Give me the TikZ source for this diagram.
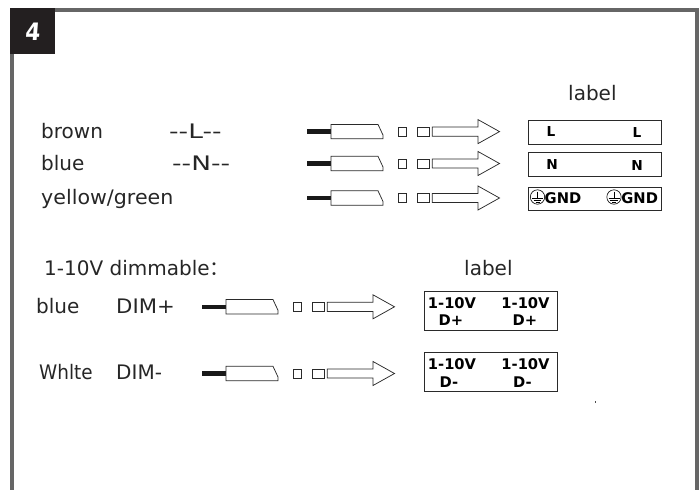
\documentclass[tikz,border=0pt]{standalone}
\usepackage{fontspec}
\usepackage{graphicx}
\setmainfont{DejaVu Sans}
\newfontfamily\cjkfont{Noto Sans CJK SC}
\newfontfamily\tagfont[FakeSlant=0.08,FakeStretch=0.9]{DejaVu Sans Bold}
\definecolor{framegrey}{HTML}{666666}
\definecolor{tagblack}{HTML}{231F20}
\definecolor{inkline}{HTML}{2A2A2A}
\tikzset{
  x=1pt,y=-1pt,
  frameline/.style={draw=framegrey,line width=4pt},
  caption/.style={inner sep=0pt,anchor=base west,font=\fontsize{20}{22}\selectfont,text=black!85},
  termtext/.style={inner sep=0pt,anchor=base,font=\fontsize{14.7}{16}\selectfont\bfseries,text=black},
  small/.style={inner sep=0pt,anchor=base,font=\fontsize{13.7}{15}\selectfont\bfseries,text=black},
  part/.style={draw=inkline,line width=0.75pt,fill=white,line join=miter},
  core/.style={draw=black!90,line width=4.4pt},
  labelbox/.style={draw=inkline,line width=0.9pt,fill=white}
}
\newcommand{\wirerun}[2]{%
  \begin{scope}[shift={(#1,#2)}]
    \draw[core] (0,0) -- (24,0);
    \draw[part] (24,-7.2) -- (71,-7.2) -- (76,3.5) -- (76,7.2) -- (24,7.2) -- cycle;
    \draw[part] (91,-4.6) rectangle (99,4.6);
    \draw[part] (110.3,-4.6) rectangle (122,4.6);
    \draw[part] (125.3,-4.6) -- (171,-4.6) -- (171,-12) -- (192.5,0) -- (171,12) -- (171,4.6) -- (125.3,4.6) -- cycle;
  \end{scope}}
\newcommand{\earth}[2]{%
  \begin{scope}[shift={(#1,#2)}]
    \draw[line width=0.6pt] (0,0) circle (7.2);
    \draw[line width=0.6pt] (0,-5.5) -- (0,1) (-5.5,1) -- (5.5,1) (-3.8,3) -- (3.8,3) (-2,5) -- (2,5);
  \end{scope}}
\begin{document}
\begin{tikzpicture}
\useasboundingbox (0,0) rectangle (699,490);
\draw[frameline] (12,490) -- (12,10) -- (697,10) -- (697,490);
\node[fill=tagblack,minimum width=45pt,minimum height=46pt,inner sep=0pt,anchor=north west] (tag) at (10,8) {};
\node[inner sep=0pt,text=white,font=\fontsize{24}{24}\tagfont] (tagnum) at (32.5,32) {4};

\node[caption] (c1) at (41,138) {brown};
\node[caption] (c2) at (169,138) {\scalebox{1.32}[1]{-{}-L-{}-}};
\node[caption] (c3) at (41,170) {blue};
\node[caption] (c4) at (172,170) {\scalebox{1.32}[1]{-{}-N-{}-}};
\node[caption] (c5) at (41,204) {\scalebox{1.03}[1]{yellow/green}};
\node[caption] (c6) at (568,100) {label};
\node[caption] (c7) at (44,275) {1-10V dimmable{\cjkfont ：}};
\node[caption] (c8) at (464,275) {label};
\node[caption] (c9) at (36,313) {blue};
\node[caption] (c10) at (116,313) {\scalebox{1.06}[1]{DIM+}};
\node[caption] (c11) at (39,379) {\scalebox{0.92}[1]{Whlte}};
\node[caption] (c12) at (116,379) {DIM-};

\wirerun{307}{131.6}
\wirerun{307}{163.5}
\wirerun{307}{198}
\wirerun{202}{306.8}
\wirerun{202}{373.5}

\node[labelbox,minimum width=133pt,minimum height=23.5pt,anchor=north west] (b1) at (528,120) {};
\node[labelbox,minimum width=133pt,minimum height=23.5pt,anchor=north west] (b2) at (528,152) {};
\node[labelbox,minimum width=133pt,minimum height=23.5pt,anchor=north west] (b3) at (528,186.5) {};
\node[labelbox,minimum width=133pt,minimum height=39.5pt,anchor=north west] (b4) at (423.5,290.5) {};
\node[labelbox,minimum width=133pt,minimum height=39pt,anchor=north west] (b5) at (423.5,352) {};

\node[small] (l1) at (551,136.5) {L};
\node[small] (l2) at (637,137.5) {L};
\node[small] (n1) at (552,169) {N};
\node[small] (n2) at (637,170) {N};
\earth{537.5}{197}
\earth{614}{197}
\node[termtext] (g1) at (563,203) {GND};
\node[termtext] (g2) at (639.7,203) {GND};
\node[termtext] (d1) at (452,308) {1-10V};
\node[termtext] (d2) at (525.5,308) {1-10V};
\node[termtext] (d3) at (451,325) {D+};
\node[termtext] (d4) at (525,325) {D+};
\node[termtext] (e1) at (452,369) {1-10V};
\node[termtext] (e2) at (525.5,369) {1-10V};
\node[termtext] (e3) at (449,387) {D-};
\node[termtext] (e4) at (522.5,387) {D-};
\fill[black!70] (594.5,401) rectangle (596,402.5);
\end{tikzpicture}
\end{document}
